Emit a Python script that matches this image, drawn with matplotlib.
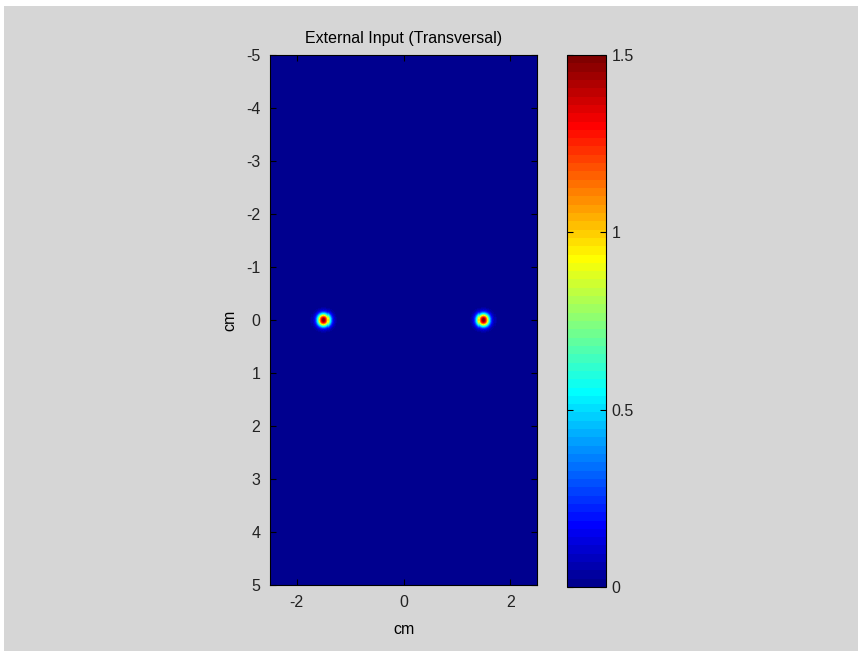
import numpy as np
import matplotlib
matplotlib.use("Agg")
import matplotlib.pyplot as plt
from matplotlib.colors import ListedColormap
from matplotlib.patches import Rectangle

# data: two gaussian sources in the transversal plane (cm)
src_x = [-1.5, 1.5]
src_y = [0.0, 0.0]
src_amp = [1.5, 1.5]
src_sigma = [0.085, 0.085]
x_lim = [-2.5, 2.5]
y_lim = [-5, 5]
x_ticks = [-2, 0, 2]
y_ticks = [-5, -4, -3, -2, -1, 0, 1, 2, 3, 4, 5]
cb_ticks = [0, 0.5, 1, 1.5]
cb_labels = ["0", "0.5", "1", "1.5"]

# matlab style jet(64)
def matlab_jet(m=64):
    n = int(np.ceil(m / 4))
    u = np.concatenate([np.arange(1, n + 1) / n, np.ones(n - 1), np.arange(n, 0, -1) / n])
    g = int(np.ceil(n / 2)) - (1 if m % 4 == 1 else 0) + np.arange(1, len(u) + 1)
    r = g + n
    b = g - n
    cols = np.zeros((m, 3))
    for idx, ch in ((r, 0), (g, 1), (b, 2)):
        ok = (idx >= 1) & (idx <= m)
        cols[idx[ok] - 1, ch] = u[ok]
    return ListedColormap(cols)

cmap = matlab_jet(64)

step = 0.02
xs = np.arange(x_lim[0], x_lim[1] + step / 2, step)
ys = np.arange(y_lim[0], y_lim[1] + step / 2, step)
X, Y = np.meshgrid(xs, ys)
Z = np.zeros_like(X)
for cx, cy, a, s in zip(src_x, src_y, src_amp, src_sigma):
    Z += a * np.exp(-((X - cx) ** 2 + (Y - cy) ** 2) / (2 * s ** 2))

plt.rcParams["font.family"] = ["Liberation Sans", "DejaVu Sans"]
plt.rcParams["font.size"] = 11.5
plt.rcParams["axes.unicode_minus"] = False

W, H = 860, 653
fig = plt.figure(figsize=(W / 100, H / 100), dpi=100, facecolor="white")
fig.patches.append(Rectangle((4 / W, 1 - 651 / H), 854 / W, 645 / H,
                             transform=fig.transFigure, facecolor="#d6d6d6",
                             edgecolor="none", zorder=-10))

ax = fig.add_axes([270 / W, 1 - 585 / H, 267 / W, 530 / H])
im = ax.imshow(Z, cmap=cmap, vmin=0, vmax=1.5, origin="upper",
               extent=[x_lim[0], x_lim[1], y_lim[1], y_lim[0]],
               aspect="auto", interpolation="nearest")
ax.set_xlim(x_lim)
ax.set_ylim(y_lim[1], y_lim[0])
ax.set_xticks(x_ticks)
ax.set_yticks(y_ticks)
ax.tick_params(direction="in", length=4, width=0.8, top=True, right=True, colors="black",
               labelcolor="#222222", pad=7)
for sp in ax.spines.values():
    sp.set_linewidth(0.8)
ax.set_xlabel("cm", labelpad=9)
ax.set_ylabel("cm", labelpad=6)
ax.set_title("External Input (Transversal)", fontsize=11.5, pad=9)

cax = fig.add_axes([567 / W, 1 - 587 / H, 39 / W, 532 / H])
cb = fig.colorbar(im, cax=cax, ticks=cb_ticks)
cb.ax.set_yticklabels(cb_labels)
cb.outline.set_linewidth(0.8)
cax.tick_params(direction="in", length=4, width=0.8, left=True, right=True,
                labelcolor="#222222", pad=4)

fig.savefig("out.png", dpi=100, facecolor=fig.get_facecolor())
